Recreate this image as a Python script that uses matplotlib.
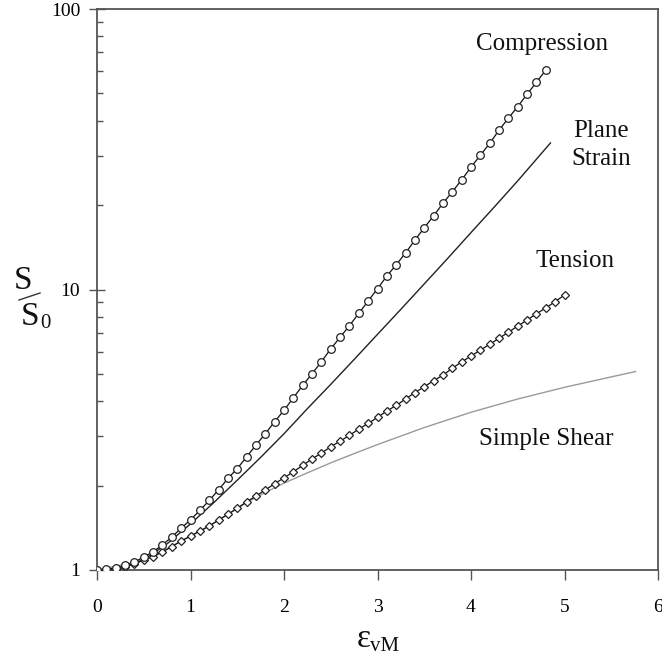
import numpy as np
import matplotlib
matplotlib.use("Agg")
import matplotlib.pyplot as plt
from matplotlib.lines import Line2D
from matplotlib.ticker import LogLocator, FixedLocator, FixedFormatter, NullFormatter

plt.rcParams["font.family"] = ["Liberation Serif", "DejaVu Serif"]

# Normalised flow stress S/S0 versus von Mises strain for four loading paths
strain_step = 0.1

compression = [1.0, 1.01, 1.014, 1.04, 1.065, 1.115, 1.16, 1.23, 1.31, 1.41,
               1.51, 1.63, 1.77, 1.93, 2.12, 2.30, 2.53, 2.79, 3.06, 3.38,
               3.71, 4.11, 4.55, 5.01, 5.53, 6.14, 6.76, 7.43, 8.22, 9.10,
               10.07, 11.17, 12.25, 13.5, 15.0, 16.6, 18.3, 20.3, 22.3, 24.6,
               27.3, 30.1, 33.2, 37.0, 40.8, 44.9, 49.7, 54.8, 60.6]

tension = [1.0, 1.003, 1.01, 1.025, 1.05, 1.086, 1.115, 1.16, 1.21, 1.27,
           1.32, 1.377, 1.435, 1.507, 1.58, 1.66, 1.75, 1.835, 1.93, 2.03,
           2.13, 2.24, 2.36, 2.49, 2.61, 2.75, 2.88, 3.02, 3.18, 3.33,
           3.50, 3.69, 3.86, 4.07, 4.29, 4.50, 4.73, 4.95, 5.24, 5.52,
           5.79, 6.08, 6.38, 6.70, 7.04, 7.41, 7.78, 8.20, 8.59, 9.05, 9.56]

plane_strain_x = [0.0, 0.25, 0.5, 0.75, 1.0, 1.25, 1.5, 1.75, 2.0, 2.25,
                  2.5, 2.75, 3.0, 3.25, 3.5, 3.75, 4.0, 4.25, 4.5, 4.85]
plane_strain_y = [1.0, 1.01, 1.09, 1.24, 1.46, 1.74, 2.09, 2.52, 3.06, 3.76,
                  4.59, 5.63, 6.92, 8.50, 10.47, 12.9, 15.96, 19.7, 24.4, 33.3]

shear_x = [0.0, 0.5, 1.0, 1.2, 1.4, 1.6, 1.8, 2.0, 2.25, 2.5, 2.75, 3.0,
           3.5, 4.0, 4.5, 5.0, 5.5, 5.76]
shear_y = [1.0, 1.08, 1.32, 1.435, 1.58, 1.74, 1.89, 2.04, 2.22, 2.41, 2.60, 2.80,
           3.22, 3.65, 4.07, 4.48, 4.88, 5.10]

x_ticks = [0, 1, 2, 3, 4, 5, 6]
y_ticks = [1, 10, 100]
y_tick_labels = ["1", "10", "100"]

comp_x = np.arange(len(compression)) * strain_step
tens_x = np.arange(len(tension)) * strain_step

W, H = 662, 660
fig = plt.figure(figsize=(W / 100, H / 100), dpi=100)
ax = fig.add_axes([97 / W, 1 - 570 / H, (658 - 97) / W, (570 - 9) / H])

ax.plot(shear_x, shear_y, color="#9a9a9a", lw=1.0, zorder=2)
ax.plot(plane_strain_x, plane_strain_y, color="#222222", lw=1.0, zorder=3)
ax.plot(tens_x, tension, color="#111111", lw=0.9, marker="D", ms=4.0,
        mfc="white", mec="#222222", mew=0.9, zorder=4)
ax.plot(comp_x, compression, color="#111111", lw=0.9, marker="o", ms=5.5,
        mfc="white", mec="#222222", mew=0.9, zorder=5)

ax.set_yscale("log")
ax.set_xlim(0, 6)
ax.set_ylim(1, 100)

ax.xaxis.set_major_locator(FixedLocator(x_ticks))
ax.yaxis.set_major_locator(FixedLocator(y_ticks))
ax.yaxis.set_major_formatter(FixedFormatter(y_tick_labels))
ax.yaxis.set_minor_locator(LogLocator(base=10, subs=np.arange(2, 10)))
ax.yaxis.set_minor_formatter(NullFormatter())

spine_col = "#555555"
for s in ax.spines.values():
    s.set_color(spine_col)
    s.set_linewidth(1.3)

ax.tick_params(axis="x", which="major", direction="out", length=7, width=1,
               color=spine_col, labelsize=14, pad=14)
ax.tick_params(axis="y", which="major", direction="inout", length=12, width=1,
               color=spine_col, labelsize=14, pad=6)
ax.tick_params(axis="y", which="minor", direction="in", length=4, width=1,
               color=spine_col)

# curve annotations
txt = dict(fontsize=18, color="#111111", ha="center", va="baseline")
ax.text(4.76, 71.4, "Compression", **txt)
ax.text(5.39, 35.0, "Plane", **txt)
ax.text(5.39, 27.8, "Strain", **txt)
ax.text(5.11, 12.0, "Tension", **txt)
ax.text(4.80, 2.79, "Simple Shear", **txt)

# axis labels drawn in figure pixel coordinates
def fx(px):
    return px / W

def fy(py):
    return 1 - py / H

fig.text(fx(357), fy(647), "ε", fontsize=24, ha="left", va="baseline", color="#111111")
fig.text(fx(370), fy(651), "vM", fontsize=15, ha="left", va="baseline", color="#111111")

fig.text(fx(14), fy(289), "S", fontsize=24, ha="left", va="baseline", color="#111111")
fig.text(fx(21), fy(325), "S", fontsize=24, ha="left", va="baseline", color="#111111")
fig.text(fx(40), fy(328), "0", fontsize=15, ha="left", va="baseline", color="#111111")
fig.add_artist(Line2D([fx(19), fx(40)], [fy(300), fy(293)], color="#333333", lw=1.0))

fig.savefig("out.png", dpi=100, facecolor="white")
